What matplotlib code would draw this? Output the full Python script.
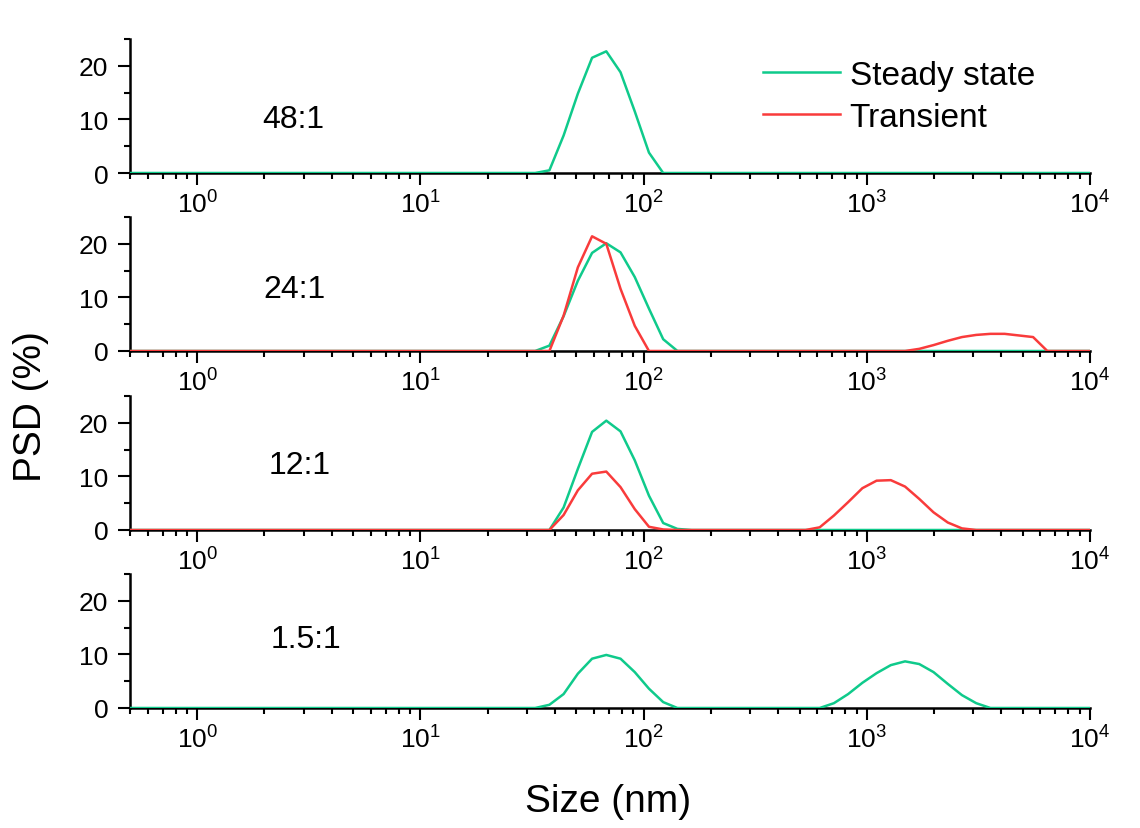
import matplotlib
matplotlib.use('Agg')
from matplotlib import pyplot as plt
from matplotlib.ticker import LogLocator, FixedLocator, NullFormatter, LogFormatterMathtext

plt.rcParams['font.family'] = ['Liberation Sans', 'DejaVu Sans']
plt.rcParams['mathtext.fontset'] = 'custom'
plt.rcParams['mathtext.rm'] = 'Liberation Sans'
plt.rcParams['mathtext.it'] = 'Liberation Sans:italic'
plt.rcParams['mathtext.bf'] = 'Liberation Sans:bold'

# size classes (nm)
sizes = [0.4, 32.67, 37.84, 43.82, 50.75, 58.77, 68.06, 78.82, 91.28, 105.7,
         122.4, 141.8, 164.2, 190.1, 220.2, 255.0, 295.3, 342.0, 396.1, 458.7,
         531.2, 615.1, 712.4, 825.0, 955.4, 1106, 1281, 1484, 1718, 1990,
         2305, 2669, 3091, 3580, 4145, 4801, 5560, 6439, 7456, 8635, 10000]

ratios = ['48:1', '24:1', '12:1', '1.5:1']

steady_48 = [0, 0, 0.5, 7.0, 14.8, 21.5, 22.7, 18.8, 11.5, 3.8,
             0, 0, 0, 0, 0, 0, 0, 0, 0, 0,
             0, 0, 0, 0, 0, 0, 0, 0, 0, 0,
             0, 0, 0, 0, 0, 0, 0, 0, 0, 0, 0]
steady_24 = [0, 0, 1.0, 6.5, 13.1, 18.3, 20.1, 18.4, 13.8, 7.9,
             2.2, 0, 0, 0, 0, 0, 0, 0, 0, 0,
             0, 0, 0, 0, 0, 0, 0, 0, 0, 0,
             0, 0, 0, 0, 0, 0, 0, 0, 0, 0, 0]
trans_24 = [0, 0, 0, 6.6, 15.6, 21.4, 20.0, 11.6, 4.7, 0,
            0, 0, 0, 0, 0, 0, 0, 0, 0, 0,
            0, 0, 0, 0, 0, 0, 0, 0, 0.4, 1.1,
            1.9, 2.6, 3.0, 3.2, 3.2, 2.9, 2.6, 0, 0, 0, 0]
steady_12 = [0, 0, 0, 4.2, 11.4, 18.3, 20.4, 18.4, 13.0, 6.4,
             1.3, 0.2, 0, 0, 0, 0, 0, 0, 0, 0,
             0, 0, 0, 0, 0, 0, 0, 0, 0, 0,
             0, 0, 0, 0, 0, 0, 0, 0, 0, 0, 0]
trans_12 = [0, 0, 0, 2.8, 7.4, 10.5, 10.9, 8.0, 3.9, 0.6,
            0.1, 0, 0, 0, 0, 0, 0, 0, 0, 0,
            0, 0.5, 2.7, 5.2, 7.8, 9.2, 9.3, 8.1, 5.8, 3.3,
            1.4, 0.3, 0, 0, 0, 0, 0, 0, 0, 0, 0]
steady_15 = [0, 0, 0.6, 2.6, 6.4, 9.2, 9.9, 9.2, 6.7, 3.6,
             1.1, 0, 0, 0, 0, 0, 0, 0, 0, 0,
             0, 0, 0.9, 2.6, 4.7, 6.5, 8.0, 8.7, 8.2, 6.7,
             4.5, 2.4, 0.9, 0, 0, 0, 0, 0, 0, 0, 0]

steady = [steady_48, steady_24, steady_12, steady_15]
transient = [None, trans_24, trans_12, None]

GREEN = '#0fca8b'
RED = '#f93b3b'

fig = plt.figure(figsize=(11.4, 8.29), dpi=100)
left, width, height = 130 / 1140, 960 / 1140, 134 / 829
bottoms = [174, 352, 531, 709]

axes = []
for i, ratio in enumerate(ratios):
    ax = fig.add_axes([left, 1 - bottoms[i] / 829, width, height])
    axes.append(ax)
    ax.plot(sizes, steady[i], color=GREEN, lw=1.8, zorder=3, label='Steady state')
    if transient[i] is not None:
        ax.plot(sizes, transient[i], color=RED, lw=1.8, zorder=3, label='Transient')
    elif i == 0:
        ax.plot([], [], color=RED, lw=1.8, label='Transient')
    ax.set_xscale('log')
    ax.set_xlim(0.5, 1e4)
    ax.set_ylim(0, 25)
    ax.spines['top'].set_visible(False)
    ax.spines['right'].set_visible(False)
    for s in ('left', 'bottom'):
        ax.spines[s].set_linewidth(1.8)
    ax.xaxis.set_major_locator(LogLocator(base=10, numticks=10))
    ax.xaxis.set_minor_locator(LogLocator(base=10, subs=range(2, 10), numticks=20))
    ax.xaxis.set_major_formatter(LogFormatterMathtext())
    ax.xaxis.set_minor_formatter(NullFormatter())
    ax.yaxis.set_major_locator(FixedLocator([0, 10, 20]))
    ax.yaxis.set_minor_locator(FixedLocator([5, 15, 25]))
    ax.tick_params(which='major', direction='out', length=8.5, width=1.5,
                   labelsize=19, pad=7)
    ax.tick_params(axis='x', which='major', pad=4)
    ax.tick_params(which='minor', direction='out', length=4.5, width=1.5)
    ax.text([0.170, 0.171, 0.177, 0.183][i], [0.40, 0.465, 0.485, 0.515][i], ratio,
            transform=ax.transAxes, ha='center', va='center', fontsize=23)

fig.legend(handles=axes[0].get_lines(), loc='upper left',
           bbox_to_anchor=(763 / 1140, 1 - 61 / 829), frameon=False,
           fontsize=24, borderpad=0, borderaxespad=0, labelspacing=0.32,
           handlelength=2.3, handletextpad=0.3)

fig.text(0.027, 0.51, 'PSD (%)', rotation=90, ha='center', va='center', fontsize=28)
fig.text(0.533, 0.033, 'Size (nm)', ha='center', va='center', fontsize=28)

plt.savefig('out.png', dpi=100)
